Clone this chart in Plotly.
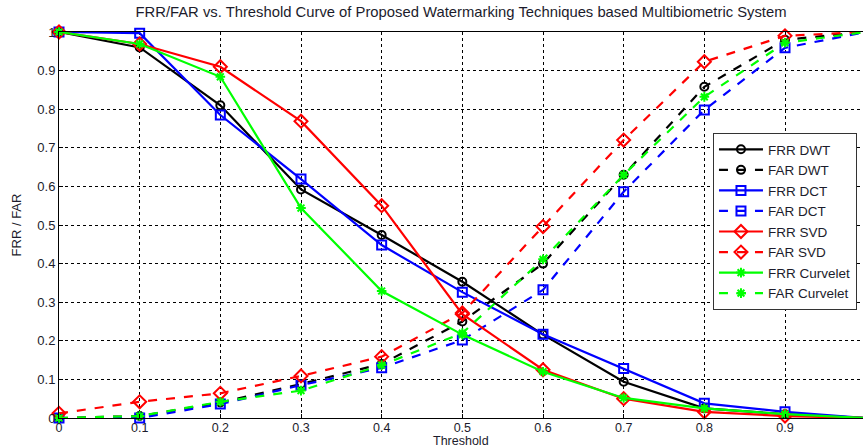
import plotly.graph_objects as go

threshold = [0, 0.1, 0.2, 0.3, 0.4, 0.5, 0.6, 0.7, 0.8, 0.9, 1.0]

frr_dwt = [1.0, 0.96, 0.81, 0.592, 0.474, 0.353, 0.216, 0.094, 0.025, 0.010, 0.0]
far_dwt = [0.0, 0.005, 0.040, 0.088, 0.140, 0.250, 0.400, 0.630, 0.858, 0.980, 1.0]
frr_dct = [1.0, 0.997, 0.785, 0.619, 0.448, 0.326, 0.217, 0.128, 0.038, 0.016, 0.0]
far_dct = [0.0, 0.0, 0.036, 0.085, 0.130, 0.202, 0.332, 0.586, 0.798, 0.959, 1.0]
frr_svd = [1.0, 0.969, 0.910, 0.769, 0.550, 0.269, 0.125, 0.050, 0.016, 0.005, 0.0]
far_svd = [0.012, 0.042, 0.064, 0.109, 0.159, 0.272, 0.496, 0.720, 0.923, 0.990, 1.0]
frr_curv = [1.0, 0.969, 0.884, 0.544, 0.329, 0.216, 0.120, 0.052, 0.025, 0.010, 0.0]
far_curv = [0.0, 0.005, 0.042, 0.071, 0.137, 0.220, 0.411, 0.630, 0.832, 0.972, 1.0]

x_ticks = [0, 0.1, 0.2, 0.3, 0.4, 0.5, 0.6, 0.7, 0.8, 0.9, 1.0]
x_tick_text = ["0", "0.1", "0.2", "0.3", "0.4", "0.5", "0.6", "0.7", "0.8", "0.9", "1"]
y_ticks = [0, 0.1, 0.2, 0.3, 0.4, 0.5, 0.6, 0.7, 0.8, 0.9, 1.0]
y_tick_text = ["0", "0.1", "0.2", "0.3", "0.4", "0.5", "0.6", "0.7", "0.8", "0.9", "1"]

series = [
    ("FRR DWT", frr_dwt, "#000000", "solid", "circle-open", 8),
    ("FAR DWT", far_dwt, "#000000", "dash", "circle-open", 8),
    ("FRR DCT", frr_dct, "#0000ff", "solid", "square-open", 9),
    ("FAR DCT", far_dct, "#0000ff", "dash", "square-open", 9),
    ("FRR SVD", frr_svd, "#ff0000", "solid", "diamond-open", 10),
    ("FAR SVD", far_svd, "#ff0000", "dash", "diamond-open", 10),
    ("FRR Curvelet", frr_curv, "#00ff00", "solid", "asterisk-open", 8),
    ("FAR Curvelet", far_curv, "#00ff00", "dash", "asterisk-open", 8),
]

fig = go.Figure()
for name, vals, color, dash, sym, size in series:
    fig.add_trace(go.Scatter(
        x=threshold, y=vals, name=name, mode="lines+markers",
        line=dict(color=color, width=2.2, dash=dash),
        marker=dict(symbol=sym, size=size, color=color,
                    line=dict(color=color, width=2)),
        cliponaxis=False,
    ))

font_main = "Liberation Sans, Arial, sans-serif"
text_col = "#1c1c2c"

fig.update_layout(
    width=863, height=447,
    margin=dict(l=59, r=0, t=32, b=29),
    paper_bgcolor="white", plot_bgcolor="white",
    font=dict(family=font_main, size=12, color=text_col),
    title=dict(
        text="FRR/FAR vs. Threshold Curve of Proposed Watermarking Techniques based Multibiometric System",
        x=0.5, xref="paper", xanchor="center",
        y=1 - 12 / 447, yref="container", yanchor="middle",
        font=dict(family=font_main, size=14.8, color=text_col),
    ),
    legend=dict(
        x=0.8134, y=0.509, xanchor="left", yanchor="middle",
        bgcolor="white", bordercolor="#333333", borderwidth=1,
        font=dict(family=font_main, size=13.5, color=text_col),
        itemwidth=44, tracegroupgap=0,
    ),
    showlegend=True,
    annotations=[dict(
        text="Threshold", xref="paper", yref="paper",
        x=0.5, y=-(440.5 - 418) / 386, xanchor="center", yanchor="middle",
        showarrow=False, font=dict(family=font_main, size=12.5, color=text_col),
    )],
)

fig.update_xaxes(
    range=[0, 0.9967], tickmode="array", tickvals=x_ticks, ticktext=x_tick_text,
    showline=True, linecolor="black", linewidth=1, mirror=True,
    showgrid=True, gridcolor="black", gridwidth=1, griddash="3px,3px",
    zeroline=False, ticks="inside", ticklen=4, tickcolor="black",
    ticklabelstandoff=-2,
    tickfont=dict(family=font_main, size=12.5, color=text_col),
)
fig.update_yaxes(
    range=[0, 1], tickmode="array", tickvals=y_ticks, ticktext=y_tick_text,
    showline=True, linecolor="black", linewidth=1, mirror=True,
    showgrid=True, gridcolor="black", gridwidth=1, griddash="3px,3px",
    zeroline=False, ticks="inside", ticklen=4, tickcolor="black",
    tickfont=dict(family=font_main, size=13, color=text_col),
    title=dict(text="FRR / FAR", font=dict(family=font_main, size=13, color=text_col), standoff=12),
)

fig.write_html("out.html")
